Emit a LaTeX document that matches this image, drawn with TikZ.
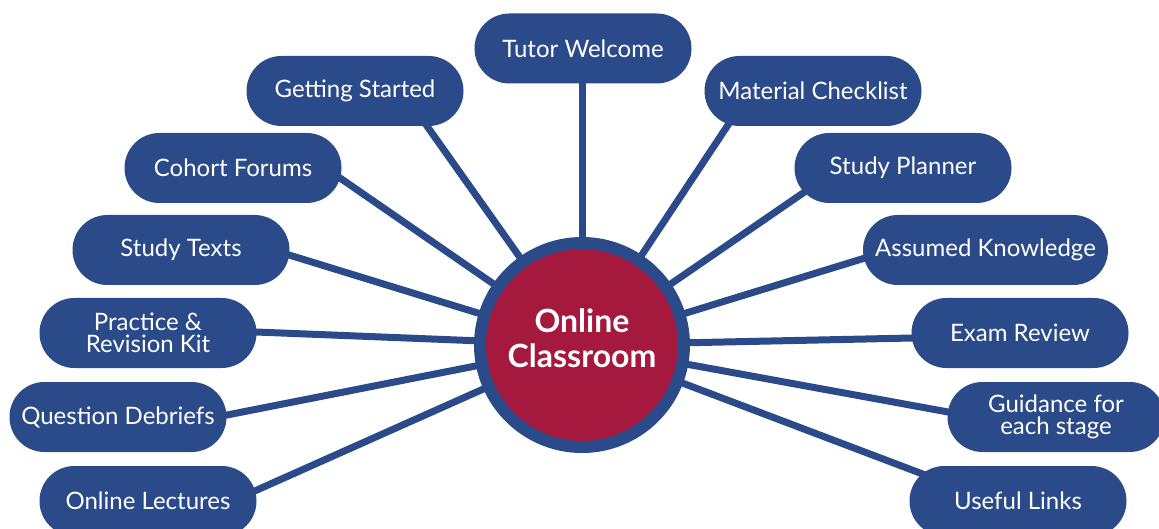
\documentclass[tikz,border=0pt]{standalone}
\usepackage{fontspec}
\setmainfont{Lato}
\usetikzlibrary{calc,backgrounds}
\definecolor{nodeblue}{HTML}{2B4A89}
\definecolor{crimson}{HTML}{A5193F}
\begin{document}
\begin{tikzpicture}[x=1pt,y=-1pt,
  pill/.style={fill=nodeblue, draw=none, rounded corners=34.9pt,
    minimum width=217pt, minimum height=70pt, text=white,
    font=\fontsize{24}{22}\selectfont, align=center, inner sep=0pt},
  hub/.style={circle, fill=crimson, draw=nodeblue, line width=12pt,
    minimum size=204pt, inner sep=0pt},
  hubtext/.style={text=white, align=center, inner sep=0pt,
    font=\fontsize{32}{35}\selectfont\bfseries},
  link/.style={draw=nodeblue, line width=7pt}]
\useasboundingbox (0,0) rectangle (1159,529);

\node[hub] (oc) at (582,345) {};
\node[hubtext] (octext) at (582,338) {Online\\Classroom};

\node[pill] (tw) at (583,48.5) {Tutor Welcome};
\node[pill] (gs) at (355,91) {Getting Started};
\node[pill] (mc) at (813,91) {Material Checklist};
\node[pill] (cf) at (233,168) {Cohort Forums};
\node[pill] (sp) at (903,168) {Study Planner};
\node[pill] (st) at (181,250) {Study Texts};
\node[pill, minimum width=245pt] (ak) at (985.5,250) {Assumed Knowledge};
\node[pill] (pr) at (148,333) {Practice \&\\Revision Kit};
\node[pill] (er) at (1020,333) {Exam Review};
\node[pill] (qd) at (118,417) {Question Debriefs};
\node[pill] (gu) at (1056,417) {Guidance for\\each stage};
\node[pill] (ol) at (148,501) {Online Lectures};
\node[pill] (ul) at (1018,501) {Useful Links};

\begin{pgfonlayer}{background}
\draw[link] (oc.center) -- ($(tw.center)+(-1,19.5)$);
\draw[link] (oc.center) -- ($(gs.center)+(63.3,22.8)$);
\draw[link] (oc.center) -- ($(mc.center)+(-76.7,21.5)$);
\draw[link] (oc.center) -- ($(cf.center)+(94.7,1.5)$);
\draw[link] (oc.center) -- ($(sp.center)+(-87.6,16.5)$);
\draw[link] (oc.center) -- ($(st.center)+(93.7,0.6)$);
\draw[link] (oc.center) -- ($(ak.center)+(-106.2,3.6)$);
\draw[link] (oc.center) -- ($(pr.center)+(93,-1.6)$);
\draw[link] (oc.center) -- ($(er.center)+(-93,4.7)$);
\draw[link] (oc.center) -- ($(qd.center)+(94.3,0.9)$);
\draw[link] (oc.center) -- ($(gu.center)+(-93.2,-2.3)$);
\draw[link] (oc.center) -- ($(ol.center)+(95.3,-4.9)$);
\draw[link] (oc.center) -- ($(ul.center)+(-84,-22.7)$);
\end{pgfonlayer}
\end{tikzpicture}
\end{document}
